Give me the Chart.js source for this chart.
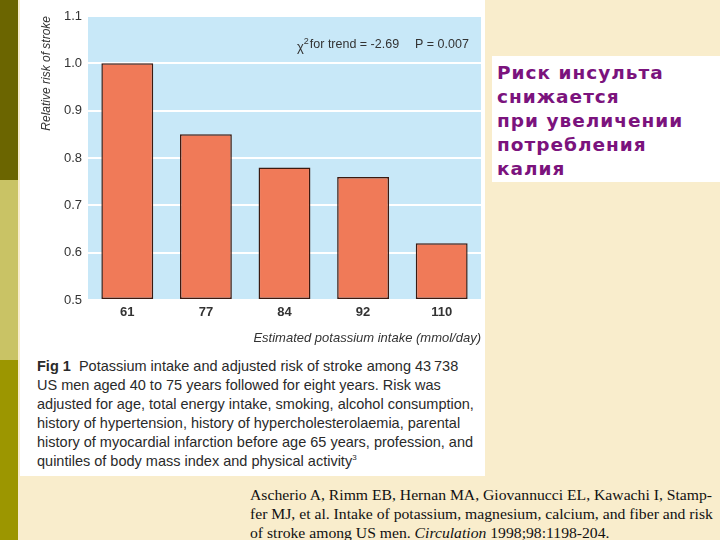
<!DOCTYPE html>
<html>
<head>
<meta charset="utf-8">
<script src="https://cdn.jsdelivr.net/npm/chart.js@4.4.1/dist/chart.umd.min.js"></script>
<style>
  body { margin: 0; width: 720px; height: 540px; overflow: hidden; background: #f9edcc; position: relative; font-family: "Liberation Sans", Arial, sans-serif; }
  .stripe { position: absolute; left: 0; width: 18px; }
  #fig { position: absolute; left: 20px; top: 0; width: 465px; height: 476px; background: #fff; }
  #wrap { position: absolute; left: 0; top: 0; width: 465px; height: 350px; }
  #caption { position: absolute; left: 17px; top: 357px; font-size: 14.5px; line-height: 19px; color: #2a2a2a; white-space: nowrap; }
  #caption sup { font-size: 8px; line-height: 0; vertical-align: 6px; }
  #note { position: absolute; left: 492px; top: 56px; width: 228px; height: 126px; background: #fff; }
  #note div { position: absolute; left: 5px; top: 5px; font-family: "DejaVu Sans", sans-serif; font-weight: bold; font-size: 18.5px; line-height: 24px; letter-spacing: 1px; color: #7b137d; }
  #cite { position: absolute; left: 250px; top: 486px; font-family: "Liberation Serif", serif; font-size: 14px; line-height: 19px; color: #111; white-space: nowrap; transform: scaleX(1.12); transform-origin: 0 0; }
</style>
</head>
<body>
<div class="stripe" style="top:0;height:180px;background:#6b6500"></div>
<div class="stripe" style="top:180px;height:180px;background:#c9c365"></div>
<div class="stripe" style="top:360px;height:180px;background:#9c9600"></div>
<div id="fig">
  <div id="wrap"><canvas id="chart"></canvas></div>
  <div id="caption"><b>Fig 1</b>&nbsp; Potassium intake and adjusted risk of stroke among 43&#8201;738<br>US men aged 40 to 75 years followed for eight years. Risk was<br>adjusted for age, total energy intake, smoking, alcohol consumption,<br>history of hypertension, history of hypercholesterolaemia, parental<br>history of myocardial infarction before age 65 years, profession, and<br>quintiles of body mass index and physical activity<sup>3</sup></div>
</div>
<div id="note"><div>Риск инсульта<br>снижается<br>при увеличении<br>потребления<br>калия</div></div>
<div id="cite">Ascherio A, Rimm EB, Hernan MA, Giovannucci EL, Kawachi I, Stamp-<br>fer MJ, et al. Intake of potassium, magnesium, calcium, and fiber and risk<br>of stroke among US men. <i>Circulation</i> 1998;98:1198-204.</div>
<script>
const intake = ["61", "77", "84", "92", "110"];
const relRisk = [1.00, 0.85, 0.78, 0.76, 0.62];
const yTicks = [0.5, 0.6, 0.7, 0.8, 0.9, 1.0, 1.1];

// фон области графика + подпись χ2
const plotBg = {
  id: "plotBg",
  beforeDraw(c) {
    const a = c.chartArea, g = c.ctx;
    g.save();
    g.fillStyle = "#c8e8f8";
    g.fillRect(a.left, a.top, a.right - a.left, a.bottom - a.top);
    g.restore();
  },
  afterDraw(c) {
    const a = c.chartArea, g = c.ctx;
    g.save();
    g.fillStyle = "#333";
    g.textBaseline = "alphabetic";
    g.font = "13px 'Liberation Sans', Arial";
    let x = a.left + 209;
    const y = a.top + 32;
    g.fillText("χ", x, y + 3);
    x += g.measureText("χ").width;
    g.font = "9px 'Liberation Sans', Arial";
    g.fillText("2", x, y - 4);
    x += 6;
    g.font = "12.5px 'Liberation Sans', Arial";
    g.fillText("for trend = -2.69", x, y);
    g.fillText("P = 0.007", a.left + 327, y);
    g.restore();
  }
};

new Chart(document.getElementById("chart"), {
  type: "bar",
  data: {
    labels: intake,
    datasets: [{
      data: relRisk,
      base: 0.5,
      backgroundColor: "#f07a58",
      borderColor: "#3b1a10",
      borderWidth: 1.5,
      borderSkipped: false,
      categoryPercentage: 1,
      barPercentage: 0.66
    }]
  },
  options: {
    responsive: true,
    maintainAspectRatio: false,
    animation: false,
    layout: { padding: { top: 16, right: 4, left: 19 } },
    plugins: { legend: { display: false }, tooltip: { enabled: false } },
    scales: {
      x: {
        grid: { display: false, drawTicks: false },
        border: { display: false },
        ticks: { color: "#333", font: { size: 13, weight: "bold" }, padding: 5 },
        title: { display: true, text: "Estimated potassium intake (mmol/day)", align: "end", color: "#333", font: { size: 13, style: "italic" }, padding: { top: 6 } },
        afterFit(s) { s.height = 50; }
      },
      y: {
        min: 0.5, max: 1.1,
        afterBuildTicks(s) { s.ticks = yTicks.map(v => ({ value: v })); },
        grid: { color: "#ffffff", lineWidth: 2, drawTicks: false },
        border: { display: false },
        ticks: { color: "#333", font: { size: 13 }, padding: 6, callback: v => v.toFixed(1) },
        title: { display: true, text: "Relative risk of stroke", align: "end", color: "#333", font: { size: 12, style: "italic" }, padding: { top: 0, bottom: 4 } },
        afterFit(s) { s.width = 49; }
      }
    }
  },
  plugins: [plotBg]
});
</script>
</body>
</html>
